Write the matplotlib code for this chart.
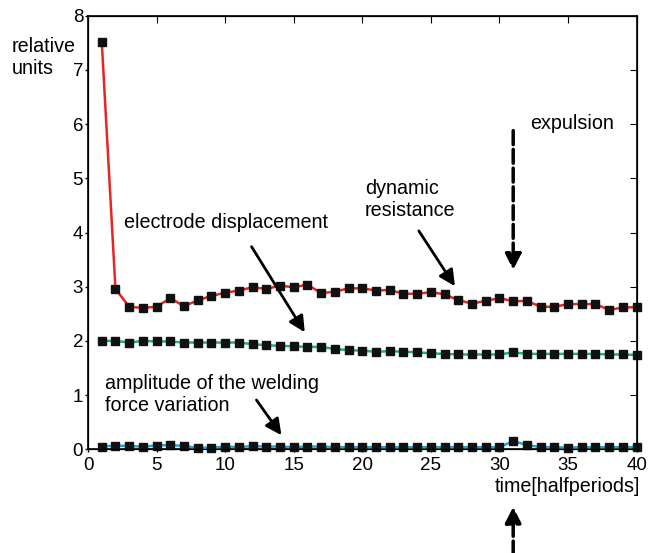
import numpy as np
import matplotlib
matplotlib.use('Agg')
import matplotlib.pyplot as plt

plt.rcParams['font.family'] = ['Liberation Sans', 'DejaVu Sans']

# half periods
t = np.arange(1, 41)

# dynamic resistance (red)
resistance = [7.52, 2.96, 2.63, 2.61, 2.63, 2.79, 2.64, 2.75, 2.83, 2.89,
              2.93, 2.99, 2.96, 3.02, 2.99, 3.04, 2.88, 2.91, 2.97, 2.97,
              2.93, 2.94, 2.87, 2.87, 2.90, 2.86, 2.75, 2.69, 2.74, 2.79,
              2.73, 2.74, 2.63, 2.63, 2.68, 2.68, 2.68, 2.57, 2.62, 2.62]

# electrode displacement (green)
displacement = [2.00, 2.00, 1.97, 2.00, 1.99, 1.99, 1.97, 1.97, 1.97, 1.97,
                1.97, 1.94, 1.92, 1.91, 1.90, 1.89, 1.89, 1.85, 1.83, 1.82,
                1.80, 1.81, 1.80, 1.79, 1.77, 1.76, 1.75, 1.75, 1.75, 1.75,
                1.79, 1.76, 1.76, 1.76, 1.76, 1.76, 1.76, 1.75, 1.75, 1.74]

# amplitude of the welding force variation (cyan)
force_amp = [0.05, 0.07, 0.06, 0.05, 0.07, 0.08, 0.06, 0.03, 0.03, 0.05,
             0.04, 0.06, 0.05, 0.05, 0.04, 0.05, 0.05, 0.04, 0.04, 0.04,
             0.04, 0.04, 0.04, 0.04, 0.04, 0.04, 0.04, 0.04, 0.04, 0.04,
             0.15, 0.08, 0.04, 0.04, 0.03, 0.04, 0.04, 0.04, 0.04, 0.04]

fs = 14.2     # annotation text
fs_tick = 13.5

fig = plt.figure(figsize=(6.57, 5.53), dpi=100)
ax = fig.add_axes([0.134, 0.1875, 0.835, 0.784])

for vals, col in [(resistance, '#e8251f'), (displacement, '#1db36b'), (force_amp, '#1ca6dc')]:
    ax.plot(t, vals, color=col, lw=1.8, marker='s', ms=6.3,
            mfc='#111111', mec='#111111', clip_on=False, zorder=3)

ax.set_xlim(0, 40)
ax.set_ylim(0, 8)
ax.set_xticks(range(0, 41, 5))
ax.set_yticks(range(0, 9))
ax.tick_params(labelsize=fs_tick, length=2.5, width=1, direction='out')
ax.tick_params(axis='y', pad=1)
ax.tick_params(axis='x', pad=3)
for sp in ax.spines.values():
    sp.set_linewidth(1.2)

# inward ticks on top and right
ax2 = ax.twinx()
ax2.set_ylim(0, 8)
ax2.set_yticks(range(0, 9))
ax2.tick_params(axis='y', direction='in', length=5, labelright=False)
ax3 = ax.twiny()
ax3.set_xlim(0, 40)
ax3.set_xticks(range(0, 41, 5))
ax3.tick_params(axis='x', direction='in', length=5, labeltop=False)

# labels
ax.text(-5.57, 7.43, 'relative', fontsize=fs, ha='left', va='center', clip_on=False)
ax.text(-5.57, 7.03, 'units', fontsize=fs, ha='left', va='center', clip_on=False)
ax.text(40.24, -0.69, 'time[halfperiods]', fontsize=fs, ha='right', va='center',
        clip_on=False)
ax.text(2.61, 4.18, 'electrode displacement', fontsize=fs, ha='left', va='center')
ax.text(20.18, 4.61, 'dynamic\nresistance', fontsize=fs, ha='left', va='center',
        linespacing=1.2)
ax.text(32.2, 6.02, 'expulsion', fontsize=fs, ha='left', va='center')
ax.text(1.22, 1.02, 'amplitude of the welding\nforce variation', fontsize=fs,
        ha='left', va='center', linespacing=1.2)

# arrows
arrow = dict(arrowstyle='-|>', color='black', lw=2, mutation_scale=24,
             shrinkA=0, shrinkB=0)
ax.annotate('', xy=(15.8, 2.16), xytext=(11.92, 3.74), arrowprops=arrow)
ax.annotate('', xy=(26.75, 3.01), xytext=(24.12, 4.03), arrowprops=arrow)
ax.annotate('', xy=(14.1, 0.26), xytext=(12.28, 0.91), arrowprops=arrow)

dashed = dict(arrow, lw=2.5, linestyle=(0, (4, 1.4)))
ax.annotate('', xy=(31, 3.31), xytext=(31, 5.88), arrowprops=dashed)
ax.annotate('', xy=(31, -1.06), xytext=(31, -1.95), arrowprops=dashed,
            annotation_clip=False)

fig.savefig('out.png', dpi=100)
